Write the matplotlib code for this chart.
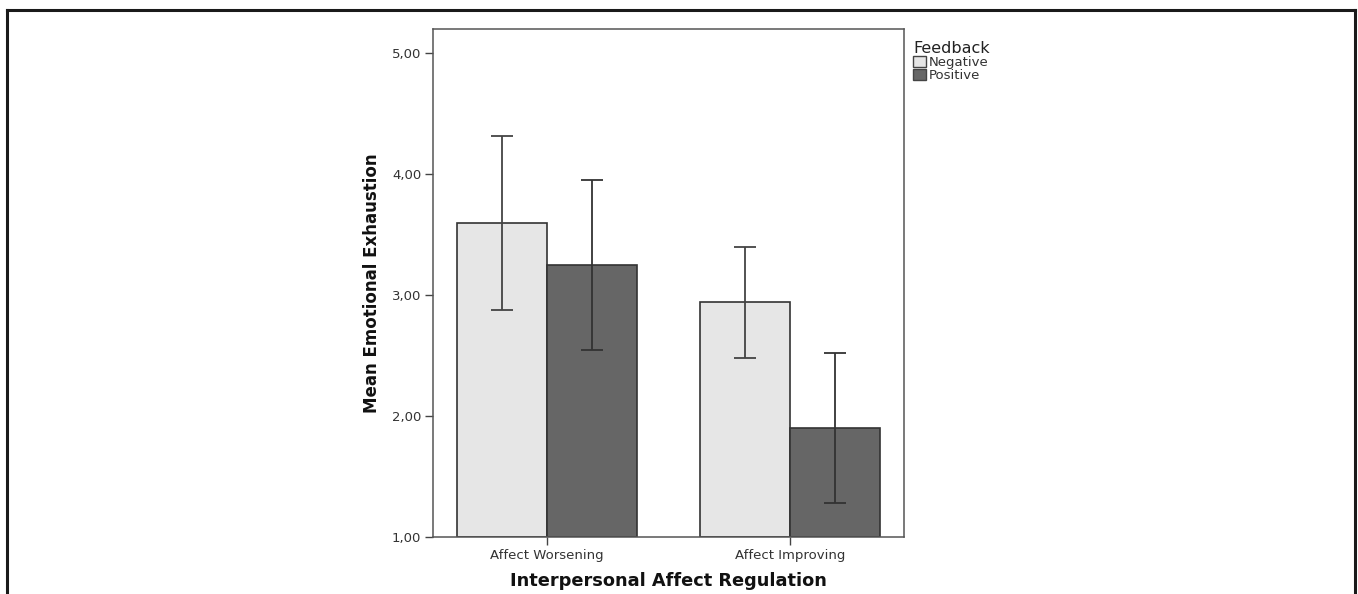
import matplotlib
matplotlib.use("Agg")
import matplotlib.pyplot as plt
import numpy as np
from matplotlib.patches import Patch
from matplotlib.lines import Line2D

categories = ["Affect Worsening", "Affect Improving"]
series_names = ["Negative", "Positive"]
means_negative = [3.60, 2.94]
means_positive = [3.25, 1.90]
err_negative = [0.72, 0.46]
err_positive = [0.70, 0.62]
y_ticks = [1.0, 2.0, 3.0, 4.0, 5.0]
y_tick_labels = ["1,00", "2,00", "3,00", "4,00", "5,00"]

plt.rcParams['font.family'] = ['DejaVu Sans']

fig = plt.figure(figsize=(13.58, 5.94), dpi=100)
ax = fig.add_axes([0.319, 0.096, 0.347, 0.855])

x = np.arange(len(categories))
w = 0.37
edge = "#333333"
ax.bar(x - w / 2, np.array(means_negative) - 1, w, bottom=1, color="#e6e6e6",
       edgecolor=edge, linewidth=1.2, zorder=2)
ax.bar(x + w / 2, np.array(means_positive) - 1, w, bottom=1, color="#666666",
       edgecolor=edge, linewidth=1.2, zorder=2)
ax.errorbar(x - w / 2, means_negative, yerr=err_negative, fmt="none",
            ecolor="#444444", elinewidth=1.3, capsize=8, capthick=1.3, zorder=3)
ax.errorbar(x + w / 2, means_positive, yerr=err_positive, fmt="none",
            ecolor="#333333", elinewidth=1.3, capsize=8, capthick=1.3, zorder=3)

ax.set_xlim(-0.468, 1.472)
ax.set_ylim(1.0, 5.2)
ax.set_yticks(y_ticks)
ax.set_yticklabels(y_tick_labels, fontsize=9.5, color="#333333")
ax.set_xticks(x)
ax.set_xticklabels(categories, fontsize=9.5, color="#333333")
ax.tick_params(axis="both", direction="out", length=6, width=1, color="#444444",
               pad=2.5)
for s in ax.spines.values():
    s.set_color("#555555")
    s.set_linewidth(1.1)

ax.set_ylabel("Mean Emotional Exhaustion", fontsize=12, fontweight="bold",
              color="#111111", labelpad=8)
ax.set_xlabel("Interpersonal Affect Regulation", fontsize=12.8, fontweight="bold",
              color="#111111", labelpad=7)

handles = [Patch(facecolor="#e6e6e6", edgecolor="#444444", linewidth=1),
           Patch(facecolor="#666666", edgecolor="#444444", linewidth=1)]
leg = ax.legend(handles, series_names, title="Feedback", loc="upper left",
                bbox_to_anchor=(1.01, 0.985), frameon=False, fontsize=9.5,
                title_fontsize=11.5, handlelength=0.95, handleheight=0.95,
                handletextpad=0.25, labelspacing=0.0, borderpad=0.3,
                borderaxespad=0.0)
leg._legend_box.align = "left"
for t in leg.get_texts():
    t.set_color("#333333")
leg.get_title().set_color("#222222")

# outer frame (top, left, right)
fig.add_artist(Line2D([0.0055, 0.998], [0.983, 0.983], color="#1a1a1a", lw=2.2,
                      transform=fig.transFigure))
fig.add_artist(Line2D([0.0055, 0.0055], [0.0, 0.983], color="#1a1a1a", lw=2.2,
                      transform=fig.transFigure))
fig.add_artist(Line2D([0.998, 0.998], [0.0, 0.983], color="#1a1a1a", lw=2.2,
                      transform=fig.transFigure))

fig.savefig("out.png", dpi=100)
